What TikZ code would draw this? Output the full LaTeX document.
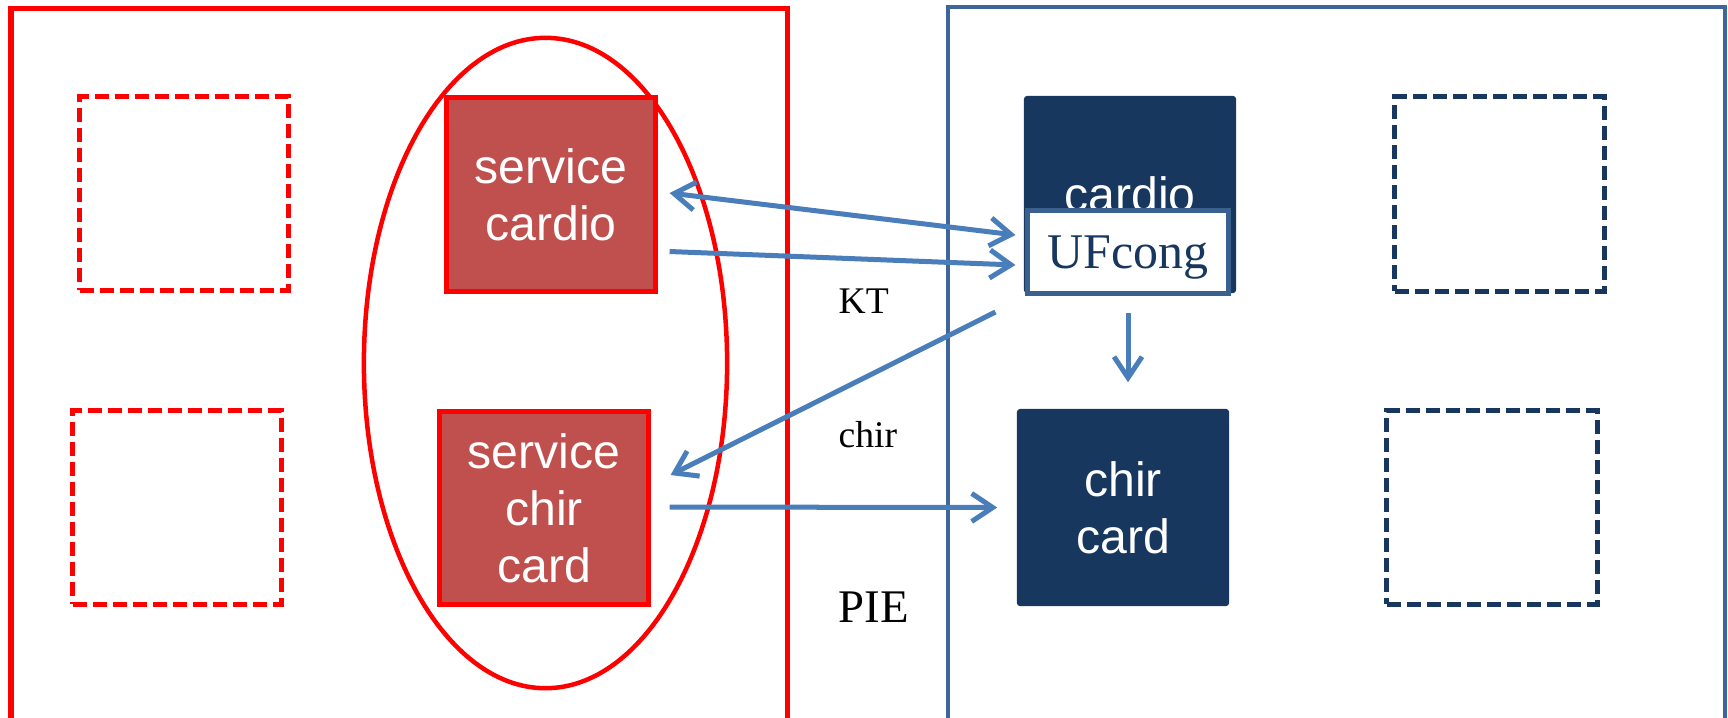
\documentclass[tikz,border=0pt]{standalone}
\usepackage{fontspec}
\setmainfont{Liberation Serif}
\newfontfamily\arialfont{Liberation Sans}
\usetikzlibrary{arrows.meta,calc}
\definecolor{svcred}{HTML}{C0504D}
\definecolor{navy}{HTML}{17375E}
\definecolor{linkblue}{HTML}{4A7EBB}
\definecolor{frameblue}{HTML}{3E669C}
\definecolor{ufedge}{HTML}{3A6090}

\begin{document}
\begin{tikzpicture}[x=0.01cm,y=-0.01cm,
  >={Straight Barb[length=0.21cm,width=0.28cm]},
  boxtext/.style={text=white,align=center,font=\arialfont\fontsize{13.7}{16.2}\selectfont},
  svcbox/.style={boxtext,draw=red,fill=svcred,line width=0.05cm,minimum width=2.08cm,minimum height=1.93cm},
  navybox/.style={boxtext,fill=navy,rounded corners=0.03cm,minimum width=2.12cm,minimum height=1.97cm},
  ufbox/.style={draw=ufedge,fill=white,line width=0.05cm,minimum width=2.0cm,minimum height=0.83cm,text=navy,text depth=0pt,font=\fontsize{14.2}{17}\selectfont},
  ghost/.style={dash pattern=on 0.14cm off 0.06cm,line width=0.05cm,minimum width=2.08cm,minimum height=1.93cm},
  link/.style={draw=linkblue,line width=0.05cm,->},
  lbl/.style={anchor=base west,inner sep=0pt,font=\fontsize{10.7}{13}\selectfont}
]
\clip (0,0) rectangle (1728,717);
% the two sites
\draw[red,line width=0.05cm] (11,8) rectangle (787,740);
\draw[frameblue,line width=0.045cm] (948,7) rectangle (1725,740);
\draw[red,line width=0.045cm] (545.5,363) ellipse [x radius=1.815cm,y radius=3.25cm];

% left site
\node[ghost,draw=red] (ghostTL) at (184,193.5) {};
\node[ghost,draw=red] (ghostBL) at (177,507.5) {};
\node[svcbox] (scardio) at (551,194.5) {service\\cardio};
\node[svcbox] (schir) at (544,508) {service\\chir\\card};

% right site
\node[navybox] (cardio) at (1130,194.5) {cardio};
\node[ufbox] (ufcong) at (1128,252) {UFcong};
\node[navybox] (chircard) at (1123,507.5) {chir\\card};
\node[ghost,draw=navy,minimum width=2.09cm,minimum height=1.94cm] (ghostTR) at (1499.5,194) {};
\node[ghost,draw=navy,minimum width=2.1cm] (ghostBR) at (1492,507.5) {};

% labels
\node[lbl] (kt) at (838,313) {KT};
\node[lbl] (chirlbl) at (838,447) {chir};
\node[lbl,font=\fontsize{13.3}{15}\selectfont] (pie) at (838,622) {PIE};

% links
\draw[link,<->] ($(scardio.east)+(12,-1.5)$) -- ($(ufcong.west)+(-10,-17)$);
\draw[link] ($(scardio.east)+(12,57)$) -- ($(ufcong.west)+(-10,13)$);
\draw[link] ($(ufcong.south west)+(-30,16)$) -- ($(schir.east)+(20,-33)$);
\draw[link] ($(schir.east)+(19,-1)$) -- ($(chircard.west)+(-19,0)$);
\draw[link] ($(ufcong.south)+(0,17)$) -- ($(chircard.north)+(5,-26)$);
\end{tikzpicture}
\end{document}
